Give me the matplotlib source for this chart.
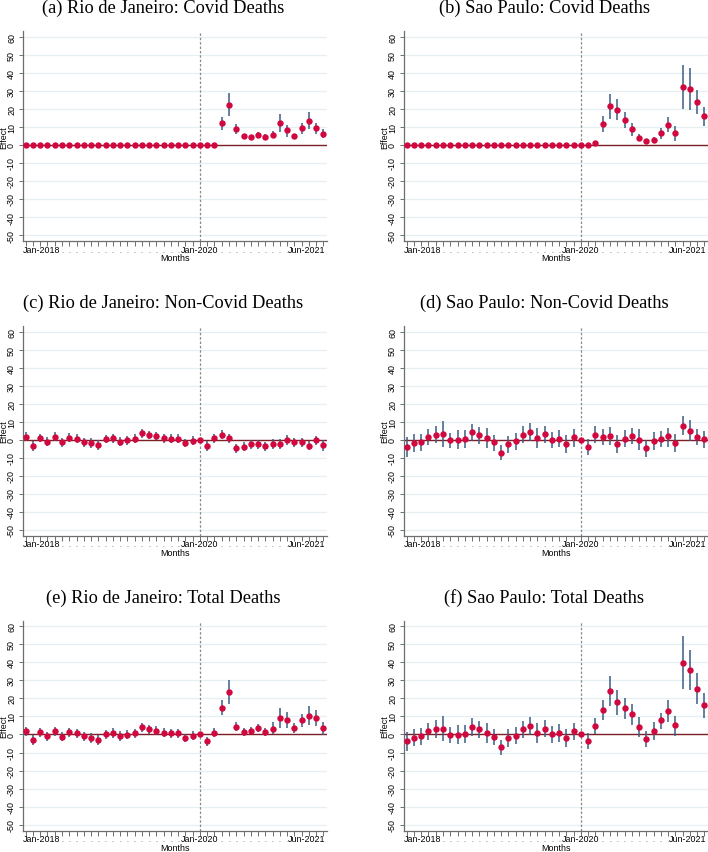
import numpy as np
import matplotlib
matplotlib.use("Agg")
import matplotlib.pyplot as plt

nan = np.nan
n_months = 42  # Jan-2018 .. Jun-2021
month_names = ["Jan", "Feb", "Mar", "Apr", "May", "Jun", "Jul", "Aug", "Sep", "Oct", "Nov", "Dec"]
months = [f"{month_names[i % 12]}-{2018 + i // 12}" for i in range(n_months)]
labeled_ticks = ["Jan-2018", "Jan-2020", "Jun-2021"]
event_month = "Jan-2020"

titles = [
    "(a) Rio de Janeiro: Covid Deaths",
    "(b) Sao Paulo: Covid Deaths",
    "(c) Rio de Janeiro: Non-Covid Deaths",
    "(d) Sao Paulo: Non-Covid Deaths",
    "(e) Rio de Janeiro: Total Deaths",
    "(f) Sao Paulo: Total Deaths",
]

# ---------- (a) Rio Covid ----------
rio_covid = [0]*27 + [12.0, 22.4, 8.9, 4.8, 4.3, 5.6, 4.6, 5.7, 11.9, 8.0, 5.0, 9.3, 13.3, 9.3, 6.3]
rio_covid_lo = [nan]*27 + [8.3, 16.1, 6.1, 3.5, 3.0, 3.9, 3.0, 3.7, 6.9, 4.6, 3.7, 6.3, 8.7, 5.9, 3.9]
rio_covid_hi = [nan]*27 + [15.2, 28.7, 11.5, 5.9, 5.4, 7.0, 6.3, 7.6, 16.9, 11.3, 6.1, 12.0, 18.0, 12.4, 8.7]

# ---------- (b) Sao Paulo Covid ----------
sp_covid = [0]*26 + [1.3, 11.7, 21.5, 19.6, 13.7, 8.9, 4.1, 2.0, 2.8, 6.5, 11.1, 6.5, 32.2, 30.9, 23.9, 15.9]
sp_covid_lo = [nan]*26 + [0.2, 7.2, 14.6, 13.9, 9.3, 5.2, 1.9, 0.7, 1.1, 3.5, 7.4, 2.2, 19.8, 19.3, 17.0, 10.6]
sp_covid_hi = [nan]*26 + [2.2, 16.1, 28.5, 25.4, 18.0, 12.0, 5.9, 3.5, 4.4, 9.6, 15.2, 10.6, 44.3, 42.4, 30.6, 21.1]

# ---------- (c) Rio Non-Covid ----------
rio_noncovid = [1.7, -3.5, 0.9, -1.1, 1.7, -1.5, 1.1, 0.6, -1.5, -1.9, -3.1, 0.4, 0.7, -1.1, -0.2, 0.6,
                3.7, 2.6, 2.0, 0.7, 0.6, 0.6, -1.9, -0.6, 0.0, -3.5, 0.7, 2.8, 0.7, -4.8, -3.9, -2.4,
                -2.4, -3.7, -2.4, -2.4, -0.2, -1.5, -1.5, -3.3, -0.4, -3.1]
rio_noncovid_lo = [-0.8, -6.2, -1.5, -3.6, -0.7, -3.9, -1.4, -1.8, -4.0, -4.5, -5.8, -2.0, -2.0, -3.7, -2.7, -1.9,
                   1.2, 0.2, -0.4, -1.7, -1.9, -1.8, -4.3, -3.1, nan, -6.0, -1.8, 0.3, -1.8, -7.4, -6.4, -4.9,
                   -4.9, -6.3, -5.0, -5.3, -2.8, -4.0, -4.1, -5.9, -3.0, -6.0]
rio_noncovid_hi = [4.2, -0.8, 3.3, 1.4, 4.1, 0.9, 3.6, 3.0, 1.0, 0.7, -0.4, 2.8, 3.4, 1.5, 2.3, 3.1,
                   6.2, 5.0, 4.4, 3.1, 3.1, 3.0, 0.5, 1.9, nan, -1.0, 3.2, 5.3, 3.2, -2.2, -1.4, 0.1,
                   0.1, -1.1, 0.2, 0.5, 2.4, 1.0, 1.1, -0.7, 2.2, -0.2]

# ---------- (d) Sao Paulo Non-Covid ----------
sp_noncovid = [-3.8, -2.1, -1.3, 1.7, 2.8, 3.2, -0.4, -0.2, 0.2, 4.0, 2.6, 1.1, -1.5, -7.5, -2.5, -0.8,
               2.8, 4.3, 0.9, 3.2, -0.2, 0.6, -2.3, 1.5, 0.0, -4.0, 2.8, 1.5, 2.1, -2.3, 0.6, 1.9,
               0.0, -4.7, -0.9, 0.6, 1.9, -1.9, 7.7, 4.7, 1.3, 0.4]
sp_noncovid_lo = [-9.8, -7.0, -6.2, -3.2, -1.9, -3.8, -4.7, -5.1, -4.7, -0.9, -2.3, -4.7, -6.2, -11.3, -7.5, -5.7,
                  -1.9, -0.9, -4.7, -1.9, -4.7, -4.3, -7.2, -3.8, nan, -8.5, -1.9, -3.2, -2.8, -7.2, -4.3, -2.5,
                  -5.7, -9.4, -5.7, -4.3, -3.8, -7.0, 2.8, -0.9, -3.2, -4.7]
sp_noncovid_hi = [1.5, 3.2, 3.2, 6.2, 7.5, 10.4, 3.8, 5.1, 5.1, 8.9, 7.2, 6.6, 2.5, -3.2, 2.3, 3.8,
                  7.4, 9.4, 6.6, 7.7, 4.3, 5.3, 2.5, 6.0, nan, 0.2, 7.4, 5.8, 7.0, 2.5, 5.3, 6.6,
                  5.7, 0.0, 4.2, 4.7, 6.6, 3.4, 13.2, 10.8, 5.7, 4.7]

# ---------- (e) Rio Total ----------
rio_total = [1.9, -3.1, 1.3, -0.9, 1.9, -1.3, 1.3, 0.7, -1.1, -2.0, -3.0, 0.2, 0.7, -0.9, -0.2, 0.6,
             3.9, 2.8, 2.2, 0.9, 0.6, 0.6, -1.9, -0.6, 0.0, -3.7, 0.9, 14.8, 23.5, 4.3, 1.5, 2.2,
             3.5, 1.5, 3.3, 9.3, 8.0, 3.5, 7.8, 10.4, 9.3, 3.5]
rio_total_lo = [-0.6, -5.8, -1.2, -3.4, -0.6, -3.8, -1.2, -1.8, -3.6, -4.6, -5.6, -2.3, -2.0, -3.5, -2.7, -1.9,
                1.4, 0.4, -0.3, -1.6, -1.9, -1.9, -4.3, -3.1, nan, -6.2, -1.6, 10.9, 16.9, 2.0, -0.7, 0.0,
                1.5, -1.1, 0.0, 3.7, 3.5, 0.9, 4.4, 5.2, 4.8, -0.2]
rio_total_hi = [4.4, -0.4, 3.8, 1.6, 4.4, 1.2, 3.8, 3.2, 1.4, 0.6, -0.4, 2.7, 3.4, 1.7, 2.3, 3.1,
                6.4, 5.2, 4.7, 3.4, 3.1, 3.1, 0.5, 1.9, nan, -1.2, 3.4, 19.1, 30.4, 6.7, 3.5, 4.3,
                5.7, 3.7, 6.7, 14.6, 12.6, 6.1, 11.3, 15.6, 13.5, 7.2]

# ---------- (f) Sao Paulo Total ----------
sp_total = [-3.7, -1.7, -0.9, 1.7, 3.0, 3.3, -0.4, -0.2, 0.4, 4.1, 2.8, 1.1, -1.5, -7.2, -2.0, -0.6,
            3.0, 4.6, 1.1, 3.3, 0.0, 0.7, -2.0, 1.7, 0.0, -3.5, 4.6, 13.5, 24.0, 17.8, 14.7, 11.1,
            4.3, -2.4, 2.2, 7.8, 13.1, 5.0, 39.9, 35.8, 25.4, 16.3]
sp_total_lo = [-9.3, -6.5, -5.6, -2.8, -1.9, -3.7, -4.6, -5.4, -4.6, -0.9, -1.9, -4.6, -6.1, -11.5, -6.9, -5.2,
               -1.9, -0.4, -4.6, -1.3, -4.6, -4.1, -6.9, -2.8, nan, -8.0, 0.0, 7.8, 15.6, 10.7, 8.7, 5.2,
               -1.5, -7.0, -2.8, 2.8, 6.9, -0.9, 25.1, 24.7, 16.7, 9.3]
sp_total_hi = [1.5, 3.2, 3.5, 6.1, 7.8, 10.2, 4.1, 5.0, 5.0, 8.9, 7.4, 6.5, 2.8, -3.1, 2.8, 4.1,
               7.4, 9.8, 6.5, 8.0, 4.6, 5.6, 2.8, 6.1, nan, 0.6, 9.1, 18.9, 32.2, 24.5, 20.4, 16.7,
               9.6, 2.2, 7.0, 12.0, 19.4, 10.4, 54.4, 47.0, 33.9, 23.2]

panels = [
    (rio_covid, rio_covid_lo, rio_covid_hi),
    (sp_covid, sp_covid_lo, sp_covid_hi),
    (rio_noncovid, rio_noncovid_lo, rio_noncovid_hi),
    (sp_noncovid, sp_noncovid_lo, sp_noncovid_hi),
    (rio_total, rio_total_lo, rio_total_hi),
    (sp_total, sp_total_lo, sp_total_hi),
]

yticks = list(range(-50, 61, 10))

W, H = 708, 853
fig = plt.figure(figsize=(W / 100, H / 100), dpi=100)

sans = ["Liberation Sans", "DejaVu Sans"]
serif = ["Liberation Serif", "DejaVu Serif"]
tick_fs = 6.4

point_color = "#d1073f"
ci_color = "#3a5d82"
zero_color = "#7d1f24"
grid_color = "#e6eff2"
axis_color = "#6e6e6e"

ax_w, ax_h = 304, 209.7
lefts = [23, 404]
bottom0 = 242
row_step = 294.8

x = np.arange(n_months)
event_idx = months.index(event_month)

lab_base = -10.6 / ax_h    # baseline of month labels (axes fraction)
months_base = -19.3 / ax_h  # baseline of "Months"

for k, (vals, lo, hi) in enumerate(panels):
    r, c = divmod(k, 2)
    left_px = lefts[c]
    bottom_px = bottom0 + r * row_step
    ax = fig.add_axes([left_px / W, 1 - bottom_px / H, ax_w / W, ax_h / H])

    ax.set_xlim(-0.37, 41.5)
    ax.set_ylim(-53.3, 63)

    for yv in yticks:
        ax.axhline(yv, color=grid_color, lw=0.9, zorder=0)
    ax.axhline(0, color=zero_color, lw=1.0, zorder=2)
    ax.axvline(event_idx, color="#8a8a8a", lw=0.9, ls=(0, (2, 1.5)), zorder=1)

    lo_a = np.array(lo, dtype=float)
    hi_a = np.array(hi, dtype=float)
    ok = ~np.isnan(lo_a)
    ax.vlines(x[ok], lo_a[ok], hi_a[ok], color=ci_color, lw=1.1, zorder=3)
    ax.plot(x, vals, "o", color=point_color, ms=4.6, mec=point_color, mew=0, zorder=4)

    for s in ["top", "right"]:
        ax.spines[s].set_visible(False)
    for s in ["left", "bottom"]:
        ax.spines[s].set_color(axis_color)
        ax.spines[s].set_linewidth(0.9)

    ax.set_yticks(yticks)
    ax.set_yticklabels([str(v) for v in yticks], rotation=90, va="center",
                       family=sans, fontsize=tick_fs)
    ax.tick_params(axis="y", length=3, width=0.7, color=axis_color, pad=2)

    ax.set_xticks(x)
    ax.set_xticklabels(["" for _ in x])
    ax.tick_params(axis="x", length=3.5, width=0.7, color=axis_color)
    trans = ax.get_xaxis_transform()
    for i, m in enumerate(months):
        if m in labeled_ticks:
            if i == 0:
                ha, dx = "left", -0.35
            elif i == n_months - 1:
                ha, dx = "right", 0.25
            else:
                ha, dx = "center", 0
            ax.text(i + dx, lab_base, m, transform=trans, ha=ha, va="baseline",
                    family=sans, fontsize=tick_fs)
        else:
            # dots are hidden where a full label covers them
            hidden = (1 <= i <= 4) or (abs(i - event_idx) <= 2) or (i >= n_months - 5)
            if not hidden:
                ax.text(i, lab_base, ".", transform=trans, ha="center", va="baseline",
                        family=sans, fontsize=5.0, color="#444444")

    ax.text(0.5, months_base, "Months", transform=ax.transAxes, ha="center", va="baseline",
            family=sans, fontsize=tick_fs)

    # y axis title
    fig.text((left_px - 19.5) / W, 1 - (bottom_px - ax_h / 2) / H, "Effect",
             rotation=90, ha="center", va="center", family=sans, fontsize=tick_fs)

    # title centred over the whole sub-graph (incl. y labels)
    title_cx = (left_px - 23 + left_px + ax_w) / 2
    title_y = 13 + r * row_step
    fig.text(title_cx / W, 1 - title_y / H, titles[k], ha="center", va="baseline",
             family=serif, fontsize=13.2)

fig.savefig("out.png", dpi=100)
